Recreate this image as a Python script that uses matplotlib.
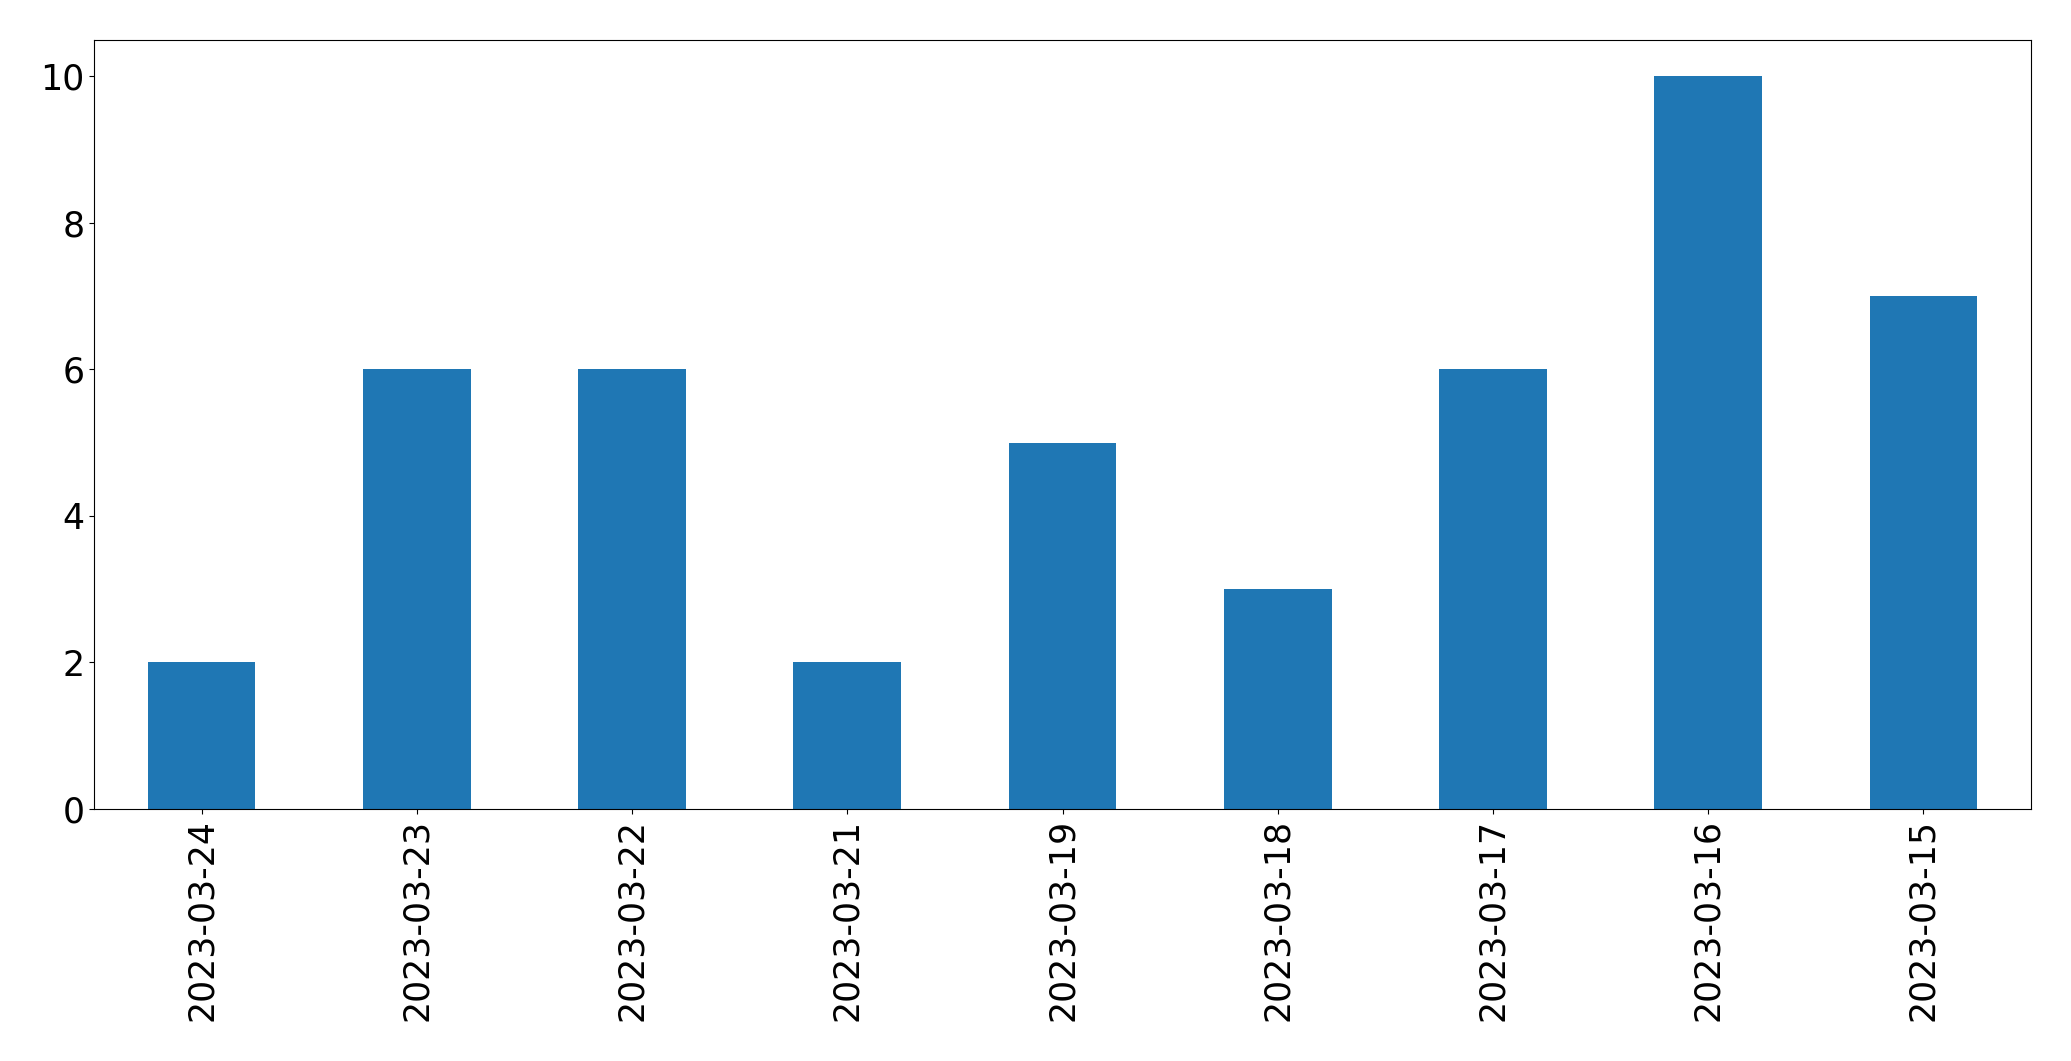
import pandas as pd
import matplotlib
matplotlib.use("Agg")
from matplotlib import pyplot as plt

dates = ["2023-03-24", "2023-03-23", "2023-03-22", "2023-03-21", "2023-03-19",
         "2023-03-18", "2023-03-17", "2023-03-16", "2023-03-15"]
counts = [2, 6, 6, 2, 5, 3, 6, 10, 7]

s = pd.Series(counts, index=dates)

fig = plt.figure(figsize=(20.71, 10.61), dpi=100)
ax = fig.add_axes([94 / 2071, 1 - 809 / 1061, (2031 - 94) / 2071, (809 - 39.5) / 1061])
s.plot(kind="bar", ax=ax, color="#1f77b4", fontsize=25)
ax.set_ylim(0, 10.5)

fig.savefig("out.png", dpi=100)
